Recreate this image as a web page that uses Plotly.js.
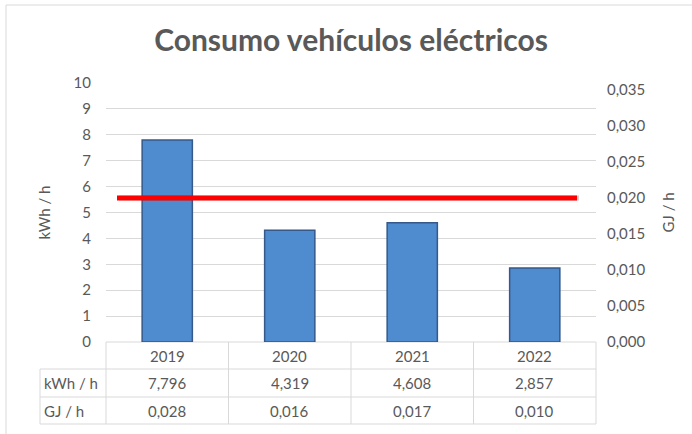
<!DOCTYPE html>
<html>
<head>
<meta charset="utf-8">
<script src="https://cdn.plot.ly/plotly-3.0.1.min.js"></script>
<style>html,body{margin:0;padding:0;background:#fff;}#chart{width:692px;height:434px;}</style>
</head>
<body>
<div id="chart"></div>
<script>
// ---- data ----
const categories = ['2019', '2020', '2021', '2022'];
const kwhValues = [7.796, 4.319, 4.608, 2.857];
const gjValues = [0.028, 0.016, 0.017, 0.010];
const limitGJ = 0.020;
const rowLabels = ['kWh / h', 'GJ / h'];
const leftTicks = [0, 1, 2, 3, 4, 5, 6, 7, 8, 9, 10];
const rightTicks = [0, 0.005, 0.010, 0.015, 0.020, 0.025, 0.030, 0.035];
const rightTickText = ['0,000', '0,005', '0,010', '0,015', '0,020', '0,025', '0,030', '0,035'];
const titleText = 'Consumo vehículos eléctricos';
const leftTitle = 'kWh / h';
const rightTitle = 'GJ / h';

// ---- layout helpers (pixel -> paper) ----
const W = 692, H = 434;
const L = 106, R = 596, T = 83, B = 342;
const xp = px => (px - L) / (R - L);
const yp = py => (B - py) / (B - T);
const FONT = 'Lato, "Open Sans", sans-serif';
const TXT = '#595959';
const GRID = '#d9d9d9';
const fmt = (v, d) => v.toFixed(d).replace('.', ',');

const traces = [
  {
    type: 'bar', x: categories, y: kwhValues, width: 0.41,
    marker: {color: '#4F8BCF', line: {color: '#34598A', width: 1.5}},
    hoverinfo: 'skip', showlegend: false
  },
  {
    type: 'scatter', mode: 'markers', x: categories, y: gjValues, yaxis: 'y2',
    marker: {opacity: 0}, hoverinfo: 'skip', showlegend: false
  }
];

const shapes = [];
const annotations = [];
const line = (x0, y0, x1, y1, color, width) => shapes.push({
  type: 'line', xref: 'paper', yref: 'paper',
  x0: xp(x0), x1: xp(x1), y0: yp(y0), y1: yp(y1),
  line: {color: color || GRID, width: width || 1}, layer: 'below'
});

// chart outer border
line(6, 5, 692, 5);
line(6, 5, 6, 434);

// table grid
const colEdges = [106, 228.5, 351, 473.5, 596];
const rowEdges = [342, 369, 397, 424];
line(106, 342, 596, 342);
for (let r = 1; r < rowEdges.length; r++) line(40, rowEdges[r], 596, rowEdges[r]);
colEdges.forEach(cx => line(cx, 342, cx, 424));
line(40, 369, 40, 424);

// table text
const tfont = {family: FONT, size: 15, color: TXT};
categories.forEach((c, i) => {
  const cx = (colEdges[i] + colEdges[i + 1]) / 2;
  annotations.push({xref: 'paper', yref: 'paper', x: xp(cx), y: yp(355.5), text: c, showarrow: false, font: tfont, xanchor: 'center', yanchor: 'middle'});
  annotations.push({xref: 'paper', yref: 'paper', x: xp(cx), y: yp(383), text: fmt(kwhValues[i], 3), showarrow: false, font: tfont, xanchor: 'center', yanchor: 'middle'});
  annotations.push({xref: 'paper', yref: 'paper', x: xp(cx), y: yp(410.5), text: fmt(gjValues[i], 3), showarrow: false, font: tfont, xanchor: 'center', yanchor: 'middle'});
});
annotations.push({xref: 'paper', yref: 'paper', x: xp(42), y: yp(383), text: rowLabels[0], showarrow: false, font: tfont, xanchor: 'left', yanchor: 'middle'});
annotations.push({xref: 'paper', yref: 'paper', x: xp(42), y: yp(410.5), text: rowLabels[1], showarrow: false, font: tfont, xanchor: 'left', yanchor: 'middle'});

// axis titles
annotations.push({xref: 'paper', yref: 'paper', x: xp(43), y: 0.5, text: leftTitle, textangle: -90, showarrow: false, font: tfont, xanchor: 'center', yanchor: 'middle'});
annotations.push({xref: 'paper', yref: 'paper', x: xp(667), y: 0.5, text: rightTitle, textangle: -90, showarrow: false, font: tfont, xanchor: 'center', yanchor: 'middle'});

// limit line (secondary axis value) with soft shadow
shapes.push({type: 'line', xref: 'paper', yref: 'y2', x0: xp(119), x1: xp(579), y0: limitGJ, y1: limitGJ,
  line: {color: 'rgba(0,0,0,0.18)', width: 5}, layer: 'above'});
shapes.push({type: 'line', xref: 'paper', yref: 'y2', x0: xp(117), x1: xp(577), y0: limitGJ, y1: limitGJ,
  line: {color: '#FF0000', width: 5}, layer: 'above'});

const layout = {
  width: W, height: H,
  margin: {l: L, r: W - R, t: T, b: H - B, pad: 0},
  paper_bgcolor: '#fff', plot_bgcolor: '#fff',
  font: {family: FONT, color: TXT},
  title: {text: '<b>' + titleText + '</b>', font: {family: FONT, size: 30, color: TXT},
    xref: 'paper', x: 0.5, xanchor: 'center', yref: 'container', y: 1 - 40 / H, yanchor: 'middle'},
  bargap: 0.59,
  xaxis: {type: 'category', showticklabels: false, showgrid: false, zeroline: false, showline: false, ticks: '', fixedrange: true},
  yaxis: {range: [0, 10], tickvals: leftTicks, ticktext: leftTicks.map(String), showgrid: true, gridcolor: GRID, gridwidth: 1,
    zeroline: false, showline: false, ticks: '', ticklabelstandoff: 14, tickfont: {family: FONT, size: 15, color: TXT}},
  yaxis2: {overlaying: 'y', side: 'right', anchor: 'x', range: [0, 0.036], tickvals: rightTicks, ticktext: rightTickText,
    showgrid: false, zeroline: false, showline: false, ticks: '', ticklabelstandoff: 10, tickfont: {family: FONT, size: 15, color: TXT}},
  shapes: shapes,
  annotations: annotations,
  showlegend: false
};

Plotly.newPlot('chart', traces, layout, {displayModeBar: false, staticPlot: true});
</script>
</body>
</html>
